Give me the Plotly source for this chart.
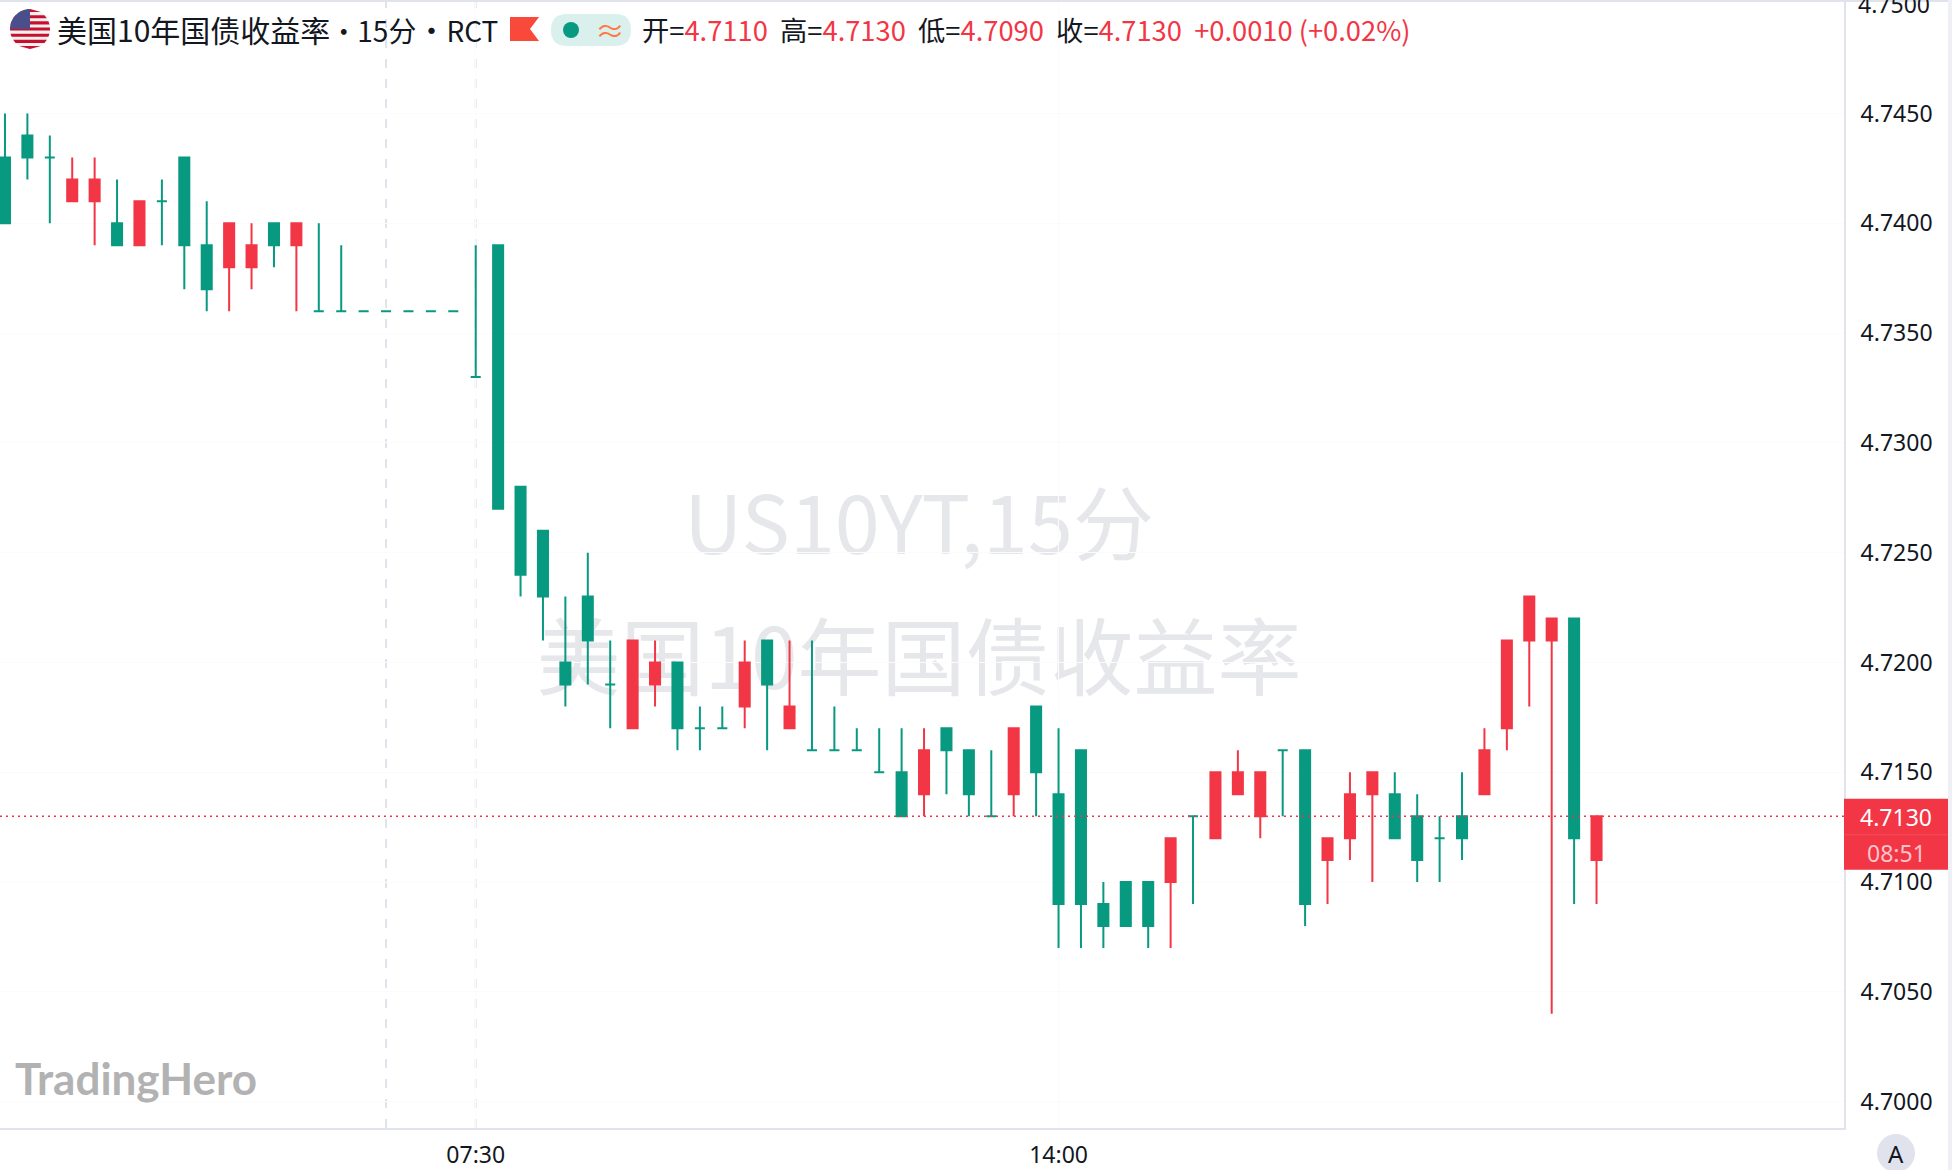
import math
import numpy as np
import plotly.graph_objects as go

# --- data ---
times = [f"{h:02d}:{m:02d}" for h in range(2, 21) for m in (0, 15, 30, 45)][1:73]
opens = [4.743,4.744,4.743,4.741,4.741,4.740,4.739,4.741,4.743,4.739,4.738,4.738,4.740,4.739,4.736,4.736,
         4.736,4.736,4.736,4.736,4.736,4.733,4.739,4.728,4.726,4.720,4.723,4.719,4.717,4.719,4.720,4.717,
         4.717,4.718,4.721,4.717,4.716,4.716,4.716,4.715,4.715,4.714,4.717,4.716,4.713,4.714,4.718,4.714,
         4.716,4.709,4.710,4.710,4.710,4.713,4.712,4.714,4.713,4.716,4.716,4.711,4.712,4.714,4.714,4.713,
         4.712,4.713,4.714,4.717,4.721,4.721,4.722,4.711]
highs = [4.745,4.745,4.744,4.743,4.743,4.742,4.741,4.742,4.743,4.741,4.740,4.740,4.740,4.740,4.740,4.739,
         4.736,4.736,4.736,4.736,4.736,4.739,4.739,4.728,4.726,4.723,4.725,4.721,4.721,4.721,4.720,4.718,
         4.718,4.721,4.721,4.721,4.721,4.718,4.717,4.717,4.717,4.717,4.717,4.716,4.716,4.717,4.718,4.717,
         4.716,4.710,4.710,4.710,4.712,4.713,4.715,4.716,4.715,4.716,4.716,4.712,4.715,4.715,4.715,4.714,
         4.713,4.715,4.717,4.721,4.723,4.722,4.722,4.713]
lows = [4.740,4.742,4.740,4.741,4.739,4.739,4.739,4.739,4.737,4.736,4.736,4.737,4.738,4.736,4.736,4.736,
        4.736,4.736,4.736,4.736,4.736,4.733,4.727,4.723,4.721,4.718,4.719,4.717,4.717,4.718,4.716,4.716,
        4.717,4.717,4.716,4.717,4.716,4.716,4.716,4.715,4.713,4.713,4.714,4.713,4.713,4.713,4.713,4.707,
        4.707,4.707,4.708,4.707,4.707,4.709,4.712,4.714,4.712,4.713,4.708,4.709,4.711,4.710,4.712,4.710,
        4.710,4.711,4.714,4.716,4.718,4.704,4.709,4.709]
closes = [4.740,4.743,4.743,4.742,4.742,4.739,4.741,4.741,4.739,4.737,4.740,4.739,4.739,4.740,4.736,4.736,
          4.736,4.736,4.736,4.736,4.736,4.733,4.727,4.724,4.723,4.719,4.721,4.719,4.721,4.720,4.717,4.717,
          4.717,4.720,4.719,4.718,4.716,4.716,4.716,4.715,4.713,4.716,4.716,4.714,4.713,4.717,4.715,4.709,
          4.709,4.708,4.708,4.708,4.712,4.713,4.715,4.715,4.715,4.716,4.709,4.712,4.714,4.715,4.712,4.711,
          4.712,4.712,4.716,4.721,4.723,4.722,4.712,4.713]
y_ticks = [4.70, 4.705, 4.71, 4.715, 4.72, 4.725, 4.73, 4.735, 4.74, 4.745]
top_tick = 4.75
x_ticks = ["07:30", "14:00"]
session_marks = ["06:30", "07:30"]
last_price = 4.713

GREEN, RED = "#089981", "#f23645"
INK = "#131722"
BORDER = "#e0e3eb"
FONT = "Noto Sans CJK SC"
W, H = 1952, 1170
PW, PH = 1844, 1132   # plot area size in pixels
YS = 1.0045           # vertical correction of pixel positions


def fx(p):
    return p / PW


def fy(p):
    return 1 - p * YS / PH


o, h, l, c = map(np.array, (opens, highs, lows, closes))
t = np.array(times)
up = c > o

fig = go.Figure()
for mask, col in ((up, RED), (~up, GREEN)):
    fig.add_trace(go.Candlestick(
        x=t[mask].tolist(), open=o[mask].tolist(), high=h[mask].tolist(),
        low=l[mask].tolist(), close=c[mask].tolist(),
        increasing=dict(line=dict(color=col, width=2), fillcolor=col),
        decreasing=dict(line=dict(color=col, width=2), fillcolor=col),
        whiskerwidth=0, showlegend=False))

shapes = []
# watermark, as shape labels so it sits beneath the candles
for text, top, bottom, size in (("US10YT,15分", 476, 586, 81), ("美国10年国债收益率", 607, 722, 84)):
    shapes.append(dict(type="rect", xref="paper", yref="paper", x0=fx(519), x1=fx(1319), y0=fy(bottom), y1=fy(top),
                       line=dict(width=0), fillcolor="rgba(0,0,0,0)", layer="below",
                       label=dict(text=text, textposition="middle center",
                                  font=dict(family=FONT, size=size, color="#e6e7ea"))))
for s in session_marks:
    shapes.append(dict(type="line", xref="x", yref="paper", x0=s, x1=s, y0=0, y1=1, layer="below",
                       line=dict(color=BORDER, width=2, dash="9px,11px")))
# last price line
shapes.append(dict(type="line", xref="paper", yref="y", x0=0, x1=1, y0=last_price, y1=last_price,
                   line=dict(color=RED, width=1.5, dash="2px,4px")))
# frame
shapes.append(dict(type="rect", xref="paper", yref="paper", x0=fx(0), x1=fx(W), y0=fy(2), y1=fy(0),
                   line=dict(width=0), fillcolor=BORDER))
shapes.append(dict(type="rect", xref="paper", yref="paper", x0=fx(1948), x1=fx(W), y0=fy(H), y1=fy(0),
                   line=dict(width=0), fillcolor="#eef0f5"))
# price tag
shapes.append(dict(type="rect", xref="paper", yref="paper", x0=fx(1844), x1=fx(1948), y0=fy(869), y1=fy(798),
                   line=dict(width=0), fillcolor=RED))
shapes.append(dict(type="line", xref="paper", yref="paper", x0=fx(1844), x1=fx(1948), y0=fy(834), y1=fy(834),
                   line=dict(color="#f44f5c", width=1)))
# auto button
shapes.append(dict(type="circle", xref="paper", yref="paper", x0=fx(1877), x1=fx(1915), y0=fy(1171), y1=fy(1133),
                   line=dict(width=0), fillcolor=BORDER))


def circle_path(cx, cy, r):
    return (f"M{fx(cx - r)},{fy(cy)} "
            + " ".join(f"L{fx(cx + r * math.cos(a))},{fy(cy + r * math.sin(a))}"
                       for a in np.linspace(math.pi, 3 * math.pi, 48)) + " Z")


# flag icon
CX, CY, R = 30, 29, 20
shapes.append(dict(type="path", xref="paper", yref="paper", path=circle_path(CX, CY, R),
                   line=dict(width=0), fillcolor="#f0f0f0"))
for i in range(7):
    y0 = CY - R + i * 2 * R / 6.5
    y1 = min(y0 + R / 6.5, CY + R)
    half0 = math.sqrt(max(R ** 2 - (y0 - CY) ** 2, 0))
    half1 = math.sqrt(max(R ** 2 - (y1 - CY) ** 2, 0))
    shapes.append(dict(type="path", xref="paper", yref="paper",
                       path=f"M{fx(CX - half0)},{fy(y0)} L{fx(CX + half0)},{fy(y0)} "
                            f"L{fx(CX + half1)},{fy(y1)} L{fx(CX - half1)},{fy(y1)} Z",
                       line=dict(width=0), fillcolor="#c8102e"))
quarter = " ".join(f"L{fx(CX + R * math.cos(a))},{fy(CY + R * math.sin(a))}"
                   for a in np.linspace(math.pi, 1.5 * math.pi, 16))
shapes.append(dict(type="path", xref="paper", yref="paper",
                   path=f"M{fx(CX)},{fy(CY)} {quarter} Z", line=dict(width=0), fillcolor="#4a4f8c"))
# bookmark flag
shapes.append(dict(type="path", xref="paper", yref="paper",
                   path=f"M{fx(510)},{fy(17)} L{fx(539)},{fy(17)} L{fx(530)},{fy(29)} L{fx(539)},{fy(41)} L{fx(510)},{fy(41)} Z",
                   line=dict(width=0), fillcolor="#f9493a"))
# status pill
pill = (f"M{fx(567)},{fy(14)} L{fx(615)},{fy(14)} Q{fx(631)},{fy(14)} {fx(631)},{fy(30)} "
        f"Q{fx(631)},{fy(46)} {fx(615)},{fy(46)} L{fx(567)},{fy(46)} "
        f"Q{fx(551)},{fy(46)} {fx(551)},{fy(30)} Q{fx(551)},{fy(14)} {fx(567)},{fy(14)} Z")
shapes.append(dict(type="path", xref="paper", yref="paper", path=pill, line=dict(width=0), fillcolor="#daf0ec"))
shapes.append(dict(type="circle", xref="paper", yref="paper", x0=fx(563), x1=fx(579), y0=fy(38), y1=fy(22),
                   line=dict(width=0), fillcolor=GREEN))


def label(text, x, y, size, color=INK, anchor="left", family=FONT, **kw):
    return dict(text=text, xref="paper", yref="paper", x=fx(x), y=fy(y), xanchor=anchor, yanchor="middle",
                showarrow=False, font=dict(family=family, size=size, color=color), **kw)


def red(s):
    return f"<span style='color:{RED}'>{s}</span>"


def sized(s, px):
    return f"<span style='font-size:{px}px'>{s}</span>"


annotations = [
    label(f"美国10年国债收益率{sized('•', 27)}{sized('15分', 28)}{sized('•', 30)}{sized('RCT', 28)}", 55, 29, 30),
    label("≈", 610, 29, 30, color="#ff7a45", anchor="center"),
    label(f"开={red('4.7110')}  高={red('4.7130')}  低={red('4.7090')}  收={red('4.7130')}  {red('+0.0010 (+0.02%)')}",
          640, 29, 27.3),
    label("4.7130", 1896, 816, 23, color="#ffffff", anchor="center", family="Noto Sans"),
    label("08:51", 1896, 852, 23, color="#fbc5ca", anchor="center", family="Noto Sans"),
    label("A", 1896, 1152, 24, anchor="center", family="Noto Sans"),
    label("<b>TradingHero</b>", 13, 1077, 44, color="#b2b2b2", family="Lato"),
    dict(text=f"{top_tick:.4f}", xref="paper", yref="y", x=fx(1856), y=top_tick, xanchor="left", yanchor="middle",
         showarrow=False, font=dict(family="Noto Sans", size=23, color=INK)),
]

fig.update_layout(
    width=W, height=H, autosize=False,
    margin=dict(l=0, r=W - PW, t=0, b=H - PH, pad=0),
    paper_bgcolor="#ffffff", plot_bgcolor="#ffffff",
    showlegend=False, boxgap=0.36,
    shapes=shapes, annotations=annotations,
    xaxis=dict(type="category", categoryorder="array", categoryarray=times,
               range=[-0.222, 82.04], rangeslider=dict(visible=False),
               tickmode="array", tickvals=x_ticks, ticktext=x_ticks,
               ticks="outside", ticklen=5, tickcolor="rgba(0,0,0,0)",
               tickfont=dict(family="Noto Sans", size=23, color=INK),
               showgrid=True, gridcolor="#fbfbfb", zeroline=False,
               showline=True, linecolor=BORDER, linewidth=2),
    yaxis=dict(side="right", range=[4.6988, 4.75017],
               tickmode="array", tickvals=y_ticks, ticktext=[f"{v:.4f}" for v in y_ticks],
               ticks="outside", ticklen=10, tickcolor="rgba(0,0,0,0)",
               tickfont=dict(family="Noto Sans", size=23, color=INK),
               showgrid=True, gridcolor="#fbfbfb", zeroline=False,
               showline=True, linecolor=BORDER, linewidth=2),
)

fig.write_html("out.html", config={"displayModeBar": False},
               post_script="document.documentElement.style.overflow='hidden';"
                           "document.documentElement.style.height='1170px';"
                           "document.body.style.margin='0';document.body.style.height='1170px';"
                           "document.body.style.overflow='hidden';")
